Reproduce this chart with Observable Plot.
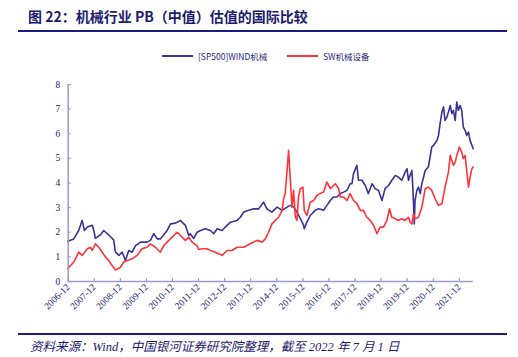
<!DOCTYPE html>
<html><head><meta charset="utf-8">
<script src="https://cdn.jsdelivr.net/npm/d3@7"></script>
<script src="https://cdn.jsdelivr.net/npm/@observablehq/plot@0.6"></script>
<style>
html,body{margin:0;padding:0;background:#fff}
body{width:518px;height:357px;position:relative;overflow:hidden;font-family:"Noto Sans CJK SC",sans-serif}
#title{position:absolute;left:28px;top:7px;font-size:14px;line-height:18px;font-weight:bold;color:#1c1c6e;white-space:nowrap;font-family:"Noto Sans CJK SC",serif}
.hr{position:absolute;left:18px;width:489px;height:2px;background:#1c1c80}
#legend{position:absolute;top:49px;left:0;width:518px;height:14px;font-size:8.5px;color:#2a2a7a;font-family:"Noto Sans CJK SC",monospace}
.item{position:absolute;top:0;display:flex;align-items:center;height:14px;white-space:nowrap}
.sw{display:inline-block;width:31px;height:2px;margin-right:5px}
#chart{position:absolute;left:0;top:66px}
#caption{position:absolute;left:30px;top:339px;font-size:12.5px;line-height:17px;font-style:italic;color:#1c1c6e;white-space:nowrap;font-family:"Liberation Serif","Noto Sans CJK SC",serif}
</style></head>
<body>
<div id="title">图 22：机械行业 PB（中值）估值的国际比较</div>
<div class="hr" style="top:30px"></div>
<div id="legend"></div>
<div id="chart"></div>
<div class="hr" style="top:333px"></div>
<div id="caption">资料来源：Wind，中国银河证券研究院整理，截至 2022 年 7 月 1 日</div>
<script>
const seriesNames = ["[SP500]WIND机械", "SW机械设备"];
const seriesColors = ["#3a3393", "#ff3338"];

const sp500Dates = [2006.90,2007.13,2007.32,2007.45,2007.54,2007.65,2007.84,2007.90,2007.96,2008.15,2008.28,2008.47,2008.66,2008.73,2008.86,2008.99,2009.11,2009.24,2009.37,2009.50,2009.69,2009.94,2010.07,2010.20,2010.33,2010.45,2010.58,2010.71,2010.84,2011.03,2011.22,2011.41,2011.54,2011.60,2011.73,2011.86,2011.99,2012.18,2012.37,2012.50,2012.63,2012.82,2012.94,2013.14,2013.39,2013.52,2013.65,2013.84,2014.03,2014.22,2014.41,2014.54,2014.73,2014.93,2015.12,2015.31,2015.43,2015.56,2015.69,2015.82,2015.94,2015.97,2016.07,2016.20,2016.39,2016.52,2016.71,2016.84,2016.97,2017.09,2017.22,2017.35,2017.48,2017.61,2017.73,2017.80,2017.86,2017.99,2018.05,2018.18,2018.31,2018.43,2018.57,2018.69,2018.82,2018.95,2019.07,2019.20,2019.33,2019.46,2019.58,2019.71,2019.84,2019.91,2019.97,2020.03,2020.10,2020.14,2020.19,2020.22,2020.29,2020.35,2020.42,2020.48,2020.61,2020.73,2020.86,2020.93,2021.06,2021.12,2021.18,2021.25,2021.31,2021.37,2021.44,2021.50,2021.57,2021.63,2021.69,2021.76,2021.82,2021.88,2021.95,2022.01,2022.07,2022.14,2022.20,2022.27,2022.33,2022.40,2022.45];
const sp500PB = [1.63,1.73,2.07,2.48,2.07,2.21,2.28,2.07,1.75,1.89,2.07,1.89,1.69,1.19,1.06,1.19,0.85,1.26,1.19,1.46,1.60,1.60,1.67,1.94,1.73,1.73,1.89,2.07,2.34,2.37,2.48,2.28,1.87,1.94,1.75,2.00,2.07,2.14,2.07,1.94,2.14,2.07,2.21,2.41,2.48,2.61,2.82,2.89,2.95,2.95,3.22,2.95,2.82,3.02,2.89,3.02,3.09,3.02,2.82,2.55,2.30,2.14,2.41,2.68,2.89,2.95,2.89,3.09,3.29,3.43,3.43,3.57,3.63,3.70,3.97,3.97,4.38,4.72,4.11,4.11,3.90,3.57,3.97,3.77,3.70,3.29,3.77,3.90,4.11,4.31,4.24,4.11,4.44,4.58,4.11,4.31,4.51,3.70,2.34,3.29,3.70,3.83,3.57,3.97,4.51,4.65,5.46,5.53,5.73,5.93,6.41,6.88,7.09,6.54,6.68,6.88,7.15,6.82,6.95,6.54,7.29,6.95,7.15,6.95,6.27,6.14,5.93,6.07,5.73,5.53,5.39];

const swDates = [2006.90,2007.13,2007.32,2007.45,2007.65,2007.77,2007.84,2007.96,2008.09,2008.22,2008.35,2008.47,2008.60,2008.73,2008.92,2009.05,2009.18,2009.37,2009.56,2009.75,2009.94,2010.07,2010.26,2010.45,2010.58,2010.71,2010.90,2011.09,2011.22,2011.41,2011.54,2011.67,2011.86,2011.92,2012.05,2012.24,2012.37,2012.56,2012.82,2013.01,2013.20,2013.39,2013.65,2013.90,2014.16,2014.35,2014.48,2014.60,2014.73,2014.86,2014.99,2015.12,2015.18,2015.24,2015.31,2015.37,2015.43,2015.50,2015.56,2015.63,2015.69,2015.75,2015.82,2015.92,2015.97,2016.07,2016.20,2016.33,2016.46,2016.58,2016.71,2016.84,2016.97,2017.09,2017.16,2017.29,2017.35,2017.48,2017.61,2017.73,2017.86,2017.99,2018.12,2018.24,2018.37,2018.50,2018.63,2018.76,2018.88,2019.01,2019.14,2019.24,2019.33,2019.46,2019.58,2019.71,2019.84,2019.97,2020.03,2020.10,2020.16,2020.22,2020.35,2020.48,2020.61,2020.73,2020.86,2020.99,2021.12,2021.25,2021.37,2021.50,2021.57,2021.69,2021.76,2021.82,2021.92,2022.01,2022.07,2022.14,2022.20,2022.27,2022.33,2022.40,2022.45];
const swPB = [0.52,0.79,1.19,1.06,1.33,1.39,1.26,1.53,1.39,1.19,0.99,0.85,0.65,0.47,0.58,0.79,0.85,0.92,1.06,1.33,1.39,1.53,1.39,1.19,1.46,1.60,1.80,2.00,1.87,1.67,1.80,1.60,1.45,1.30,1.33,1.33,1.26,1.19,1.06,1.26,1.26,1.39,1.39,1.53,1.67,1.60,1.73,2.00,2.34,2.48,2.61,2.89,3.36,3.57,4.51,5.33,4.24,3.02,3.70,2.61,2.48,3.43,3.77,3.83,2.89,2.68,3.22,3.29,3.50,3.57,3.63,4.04,3.77,3.90,3.97,3.77,3.43,3.43,3.29,3.57,3.29,3.16,2.89,2.89,2.61,2.48,2.28,1.94,2.21,2.21,2.48,2.95,2.61,2.55,2.48,2.55,2.48,2.61,2.41,2.34,2.75,2.55,2.61,3.02,3.77,3.83,3.70,3.36,3.09,3.16,3.83,4.44,5.12,4.72,4.85,5.12,5.46,5.26,4.99,5.12,4.51,3.83,4.24,4.58,4.65];

const xTickLabels = ["2006-12","2007-12","2008-12","2009-12","2010-12","2011-12","2012-12","2013-12","2014-12","2015-12","2016-12","2017-12","2018-12","2019-12","2020-12","2021-12"];
const yTicks = [0,1,2,3,4,5,6,7,8];

const labelToYear = s => { const [y, m] = s.split("-").map(Number); return y + (m - 1) / 12; };
const xTicks = xTickLabels.map(labelToYear);
const tickName = new Map(xTicks.map((t, i) => [t, xTickLabels[i]]));
const xStart = xTicks[0];
const xEnd = 2022.45;

const rows = [
  ...sp500Dates.map((d, i) => ({date: d, pb: sp500PB[i], series: seriesNames[0]})),
  ...swDates.map((d, i) => ({date: d, pb: swPB[i], series: seriesNames[1]}))
];

// legend
const leg = document.getElementById("legend");
const legLeft = [162, 287];
seriesNames.forEach((n, i) => {
  const it = document.createElement("div");
  it.className = "item";
  it.style.left = legLeft[i] + "px";
  it.innerHTML = `<span class="sw" style="background:${seriesColors[i]}"></span><span>${n}</span>`;
  leg.appendChild(it);
});

const axisColor = "#9a9ad2";
const textColor = "#23237a";
const tickLenX = 3 / 26.1;
const tickLenY = 3 / 24.6;

const chart = Plot.plot({
  width: 518,
  height: 266,
  marginLeft: 67.7,
  marginRight: 45.3,
  marginTop: 18,
  marginBottom: 51,
  style: {fontFamily: "'Liberation Serif', serif", fontSize: "9px", color: textColor, background: "transparent"},
  x: {domain: [xStart, xEnd]},
  y: {domain: [0, 8]},
  color: {domain: seriesNames, range: seriesColors},
  marks: [
    Plot.axisY({ticks: yTicks, tickSize: 0, tickPadding: 8, label: null, fill: textColor, fontSize: 9.5}),
    Plot.axisX({ticks: xTicks, tickSize: 0, tickRotate: -45, tickPadding: 4, tickFormat: d => tickName.get(d), label: null, fill: textColor, fontSize: 9.5}),
    Plot.line(rows, {x: "date", y: "pb", stroke: "series", z: "series", strokeWidth: 1.6, curve: "linear"}),
    Plot.ruleY([0], {x1: xStart, x2: xEnd, stroke: axisColor, strokeWidth: 1.5}),
    Plot.ruleX([xStart], {y1: 0, y2: 8, stroke: axisColor, strokeWidth: 1.5}),
    Plot.ruleY(yTicks, {x1: xStart, x2: xStart + tickLenX, stroke: axisColor, strokeWidth: 1.2}),
    Plot.ruleX(xTicks, {y1: 0, y2: tickLenY, stroke: axisColor, strokeWidth: 1.2})
  ]
});
document.getElementById("chart").appendChild(chart);
</script>
</body></html>
